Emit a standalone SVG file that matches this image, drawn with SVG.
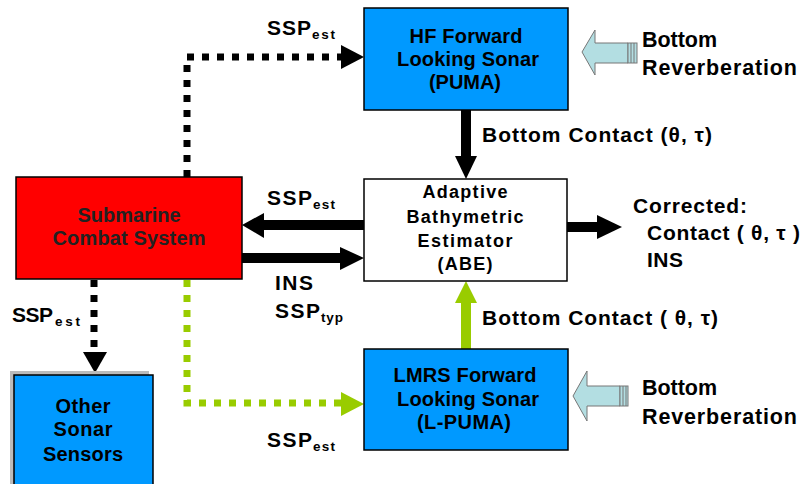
<svg xmlns="http://www.w3.org/2000/svg" width="803" height="484" viewBox="0 0 803 484">
<style>
text{font-family:"Liberation Sans",Arial,sans-serif;font-weight:bold;fill:#000}
.bx{font-size:20px;text-anchor:middle}
.lb{font-size:21px}
.rv{font-size:21.5px}
.sub{font-size:13.5px}
.blue{fill:#0099FF;stroke:#000;stroke-width:1.5}
.dotk{fill:none;stroke:#000;stroke-width:7;stroke-dasharray:7 8}
.dotg{fill:none;stroke:#99CC00;stroke-width:7;stroke-dasharray:7 8}
.hol{fill:#B3DEE2;stroke:#777;stroke-width:1}
</style>
<rect width="803" height="484" fill="#fff"/>
<g id="connectors">
  <path class="dotk" d="M187,177 V57 H341"/>
  <polygon points="341,45 364,57 341,69" fill="#000"/>
  <path class="dotk" d="M94,280 V352"/>
  <polygon points="83,352 95,373 107,352" fill="#000"/>
  <path class="dotg" d="M187,280 V403 H341"/>
  <polygon points="341,392 364,404 341,416" fill="#99CC00"/>
  <rect x="461" y="110" width="10" height="48" fill="#000"/>
  <polygon points="455,156 466,179 477,156" fill="#000"/>
  <rect x="461" y="301" width="10" height="48" fill="#99CC00"/>
  <polygon points="455,303 466,281 477,303" fill="#99CC00"/>
  <rect x="262" y="220" width="102" height="10" fill="#000"/>
  <polygon points="264,213 242,225 264,238" fill="#000"/>
  <rect x="242" y="253" width="100" height="10" fill="#000"/>
  <polygon points="340,247 364,258 340,270" fill="#000"/>
  <rect x="567" y="222" width="32" height="10" fill="#000"/>
  <polygon points="597,215 622,227 597,239" fill="#000"/>
</g>
<g id="hf">
  <rect class="blue" x="364" y="8" width="204" height="102"/>
  <text class="bx" x="466" y="43" textLength="113">HF Forward</text>
  <text class="bx" x="468" y="66" textLength="142">Looking Sonar</text>
  <text class="bx" x="465" y="89" textLength="72">(PUMA)</text>
</g>
<g id="abe">
  <rect x="364" y="179" width="203" height="102" fill="#fff" stroke="#000" stroke-width="1.5"/>
  <text class="bx" x="465" y="198" textLength="85" style="font-size:18px">Adaptive</text>
  <text class="bx" x="465" y="223" textLength="117" style="font-size:18px">Bathymetric</text>
  <text class="bx" x="465" y="247" textLength="95" style="font-size:18px">Estimator</text>
  <text class="bx" x="465" y="270" textLength="55" style="font-size:18px">(ABE)</text>
</g>
<g id="scs">
  <rect x="16" y="177" width="226" height="102" fill="#FF0000" stroke="#000" stroke-width="1.5"/>
  <text class="bx" x="129" y="222" textLength="103" style="fill:#222">Submarine</text>
  <text class="bx" x="129" y="245" textLength="153" style="fill:#222">Combat System</text>
</g>
<g id="lmrs">
  <rect class="blue" x="364" y="349" width="204" height="101"/>
  <text class="bx" x="465" y="382" textLength="143">LMRS Forward</text>
  <text class="bx" x="468" y="406" textLength="142">Looking Sonar</text>
  <text class="bx" x="464" y="429" textLength="94">(L-PUMA)</text>
</g>
<g id="other">
  <rect x="10" y="371" width="139" height="115" fill="#BBBBBB"/>
  <rect class="blue" x="14" y="375" width="139" height="112"/>
  <text class="bx" x="83" y="413" textLength="55">Other</text>
  <text class="bx" x="83" y="436" textLength="59">Sonar</text>
  <text class="bx" x="83" y="461" textLength="80">Sensors</text>
</g>
<g id="rev-top">
  <polygon class="hol" points="582,52 595,30 595,43 628,43 628,63 595,63 595,75"/>
  <rect x="628" y="43" width="9" height="20" fill="#B3DEE2" stroke="#777"/>
  <path d="M631,43 V63 M634,43 V63" stroke="#777"/>
  <text class="rv" x="642" y="47" textLength="75">Bottom</text>
  <text class="rv" x="642" y="75" textLength="155">Reverberation</text>
</g>
<g id="rev-bot">
  <polygon class="hol" points="573,396 587,371 587,386 620,386 620,406 587,406 587,421"/>
  <rect x="620" y="386" width="8" height="20" fill="#B3DEE2" stroke="#777"/>
  <path d="M623,386 V406 M626,386 V406" stroke="#777"/>
  <text class="rv" x="642" y="395" textLength="75">Bottom</text>
  <text class="rv" x="642" y="424" textLength="155">Reverberation</text>
</g>
<g id="labels">
  <text class="lb" x="267" y="35" textLength="44">SSP</text><text class="sub" x="312" y="39" textLength="23">est</text>
  <text class="lb" x="482" y="142" textLength="230">Bottom Contact (θ, τ)</text>
  <text class="lb" x="267" y="205" textLength="45">SSP</text><text class="sub" x="313" y="209" textLength="22">est</text>
  <text class="lb" x="275" y="290" textLength="38">INS</text>
  <text class="lb" x="275" y="318" textLength="45">SSP</text><text class="sub" x="321" y="322" textLength="22">typ</text>
  <text class="lb" x="12" y="322" textLength="41">SSP</text><text class="sub" x="55" y="326" textLength="25">est</text>
  <text class="lb" x="633" y="213" textLength="114">Corrected:</text>
  <text class="lb" x="647" y="240" textLength="153">Contact ( θ, τ )</text>
  <text class="lb" x="647" y="267" textLength="36">INS</text>
  <text class="lb" x="482" y="325" textLength="236">Bottom Contact ( θ, τ)</text>
  <text class="lb" x="267" y="447" textLength="45">SSP</text><text class="sub" x="313" y="451" textLength="22">est</text>
</g>
</svg>
